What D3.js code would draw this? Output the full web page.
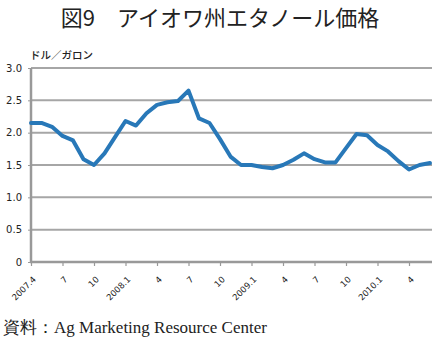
<!DOCTYPE html>
<html><head><meta charset="utf-8">
<script src="https://cdn.jsdelivr.net/npm/d3@7"></script>
<style>body{margin:0;background:#fff;}svg{display:block;}</style>
</head><body>
<script>
const months = ["2007.4","2007.5","2007.6","2007.7","2007.8","2007.9","2007.10","2007.11","2007.12",
"2008.1","2008.2","2008.3","2008.4","2008.5","2008.6","2008.7","2008.8","2008.9","2008.10","2008.11","2008.12",
"2009.1","2009.2","2009.3","2009.4","2009.5","2009.6","2009.7","2009.8","2009.9","2009.10","2009.11","2009.12",
"2010.1","2010.2","2010.3","2010.4","2010.5","2010.6"];
const prices = [2.15,2.15,2.09,1.95,1.88,1.59,1.50,1.68,1.93,
2.18,2.11,2.30,2.43,2.47,2.49,2.65,2.22,2.15,1.90,1.63,1.50,
1.50,1.47,1.45,1.50,1.58,1.68,1.59,1.54,1.54,1.76,1.98,1.96,
1.81,1.71,1.56,1.43,1.50,1.53];
const tickMonths = ["2007.4","2007.7","2007.10","2008.1","2008.4","2008.7","2008.10","2009.1","2009.4","2009.7","2009.10","2010.1","2010.4"];
const tickLabels = ["2007.4","7","10","2008.1","4","7","10","2009.1","4","7","10","2010.1","4"];
const yTicks = [0,0.5,1.0,1.5,2.0,2.5,3.0];

const W=437,H=339;
const svg=d3.select("body").append("svg").attr("width",W).attr("height",H);
const L=31,R=432,T=68,B=262;
const x=d3.scalePoint().domain(months).range([L,L+10.5*(months.length-1)]);
const y=d3.scaleLinear().domain([0,3]).range([B,T]);

svg.append("text").attr("x",220).attr("y",26).attr("text-anchor","middle")
 .attr("font-family","Noto Sans CJK JP").attr("font-size",22).attr("fill","#222")
 .text("図9\u3000アイオワ州エタノール価格");
svg.append("text").attr("x",30).attr("y",59)
 .attr("font-family","Noto Sans CJK JP").attr("font-size",10.5).attr("font-weight",500).attr("fill","#222").text("ドル／ガロン");

// grid
svg.append("g").selectAll("line").data(yTicks.filter(d=>d>0)).join("line")
 .attr("x1",L).attr("x2",R).attr("y1",d=>y(d)).attr("y2",d=>y(d))
 .attr("stroke","#a6a6a6").attr("stroke-width",2);

// y axis
const yAx=svg.append("g").attr("transform",`translate(${L},0)`)
 .call(d3.axisLeft(y).tickValues(yTicks).tickSize(3).tickFormat(d=>d===0?"0":d3.format(".1f")(d)));
yAx.select(".domain").remove();
yAx.selectAll("line").attr("stroke","#999");
yAx.selectAll("text").attr("font-family","DejaVu Sans").attr("font-size",10).attr("fill","#222").attr("dx",-3);
svg.append("line").attr("x1",L).attr("x2",L).attr("y1",T).attr("y2",B+1).attr("stroke","#999").attr("stroke-width",2.5);

// x axis
const xAx=svg.append("g").attr("transform",`translate(0,${B})`)
 .call(d3.axisBottom(x).tickValues(tickMonths).tickSize(4).tickFormat((d,i)=>tickLabels[i]));
xAx.select(".domain").remove();
xAx.selectAll("line").attr("stroke","#999").attr("stroke-width",1.2);
xAx.selectAll("text").attr("font-family","DejaVu Sans").attr("font-size",8.5).attr("fill","#222")
 .attr("text-anchor","end").attr("y",0).attr("dy",0).attr("transform","translate(5,18) rotate(-45)");
svg.append("line").attr("x1",L-1).attr("x2",R).attr("y1",B).attr("y2",B).attr("stroke","#999").attr("stroke-width",2.5);

// line
svg.append("path").datum(prices.map((v,i)=>[months[i],v]))
 .attr("fill","none").attr("stroke","#2878b8").attr("stroke-width",4).attr("stroke-linejoin","round").attr("stroke-linecap","round")
 .attr("d",d3.line().x(d=>x(d[0])).y(d=>y(d[1])));

svg.append("text").attr("x",3).attr("y",333)
 .attr("font-family","Liberation Serif").attr("font-size",17).attr("fill","#222")
 .text("資料：Ag Marketing Resource Center");
</script>
</body></html>
